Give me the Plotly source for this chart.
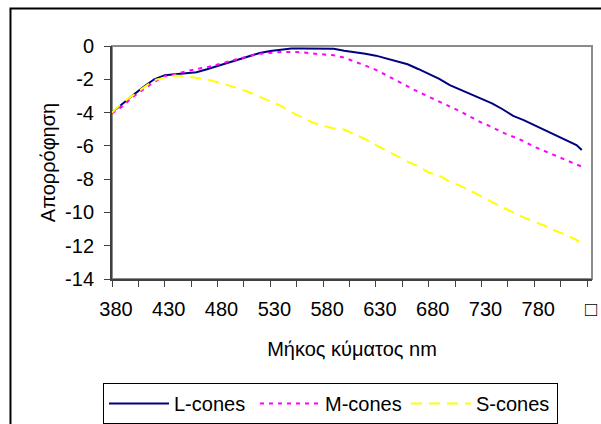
import plotly.graph_objects as go

# Wavelength samples (nm)
wavelength = [380, 390, 400, 410, 420, 430, 440, 450, 460, 470, 480, 490, 500, 510, 520,
              530, 540, 550, 560, 570, 580, 590, 600, 610, 620, 630, 640, 650, 660, 670,
              680, 690, 700, 710, 720, 730, 740, 750, 760, 770, 780, 790, 800, 810, 820, 825]

# Log absorbance of the three cone types
l_cones = [-4.0, -3.45, -2.95, -2.45, -2.0, -1.75, -1.68, -1.65, -1.58, -1.4, -1.2, -1.0, -0.82,
           -0.62, -0.42, -0.3, -0.22, -0.15, -0.15, -0.15, -0.15, -0.17, -0.28, -0.36, -0.46,
           -0.58, -0.74, -0.9, -1.1, -1.38, -1.68, -1.98, -2.35, -2.62, -2.9, -3.15, -3.45,
           -3.8, -4.2, -4.45, -4.75, -5.05, -5.37, -5.65, -5.95, -6.25]
m_cones = [-4.05, -3.62, -3.05, -2.6, -2.15, -1.82, -1.66, -1.52, -1.38, -1.28, -1.1, -0.95,
           -0.78, -0.6, -0.46, -0.4, -0.36, -0.36, -0.38, -0.45, -0.5, -0.56, -0.7, -0.92,
           -1.18, -1.43, -1.75, -2.05, -2.42, -2.75, -3.05, -3.32, -3.62, -3.93, -4.27, -4.6,
           -4.87, -5.2, -5.45, -5.72, -6.05, -6.32, -6.58, -6.82, -7.1, -7.25]
s_cones = [-4.0, -3.4, -2.95, -2.5, -2.05, -1.9, -1.78, -1.82, -1.92, -2.0, -2.18, -2.35, -2.55,
           -2.78, -3.05, -3.35, -3.6, -3.98, -4.3, -4.6, -4.8, -4.95, -5.02, -5.3, -5.6, -5.95,
           -6.3, -6.65, -6.95, -7.22, -7.6, -7.8, -8.15, -8.4, -8.7, -9.05, -9.4, -9.7, -10.0,
           -10.3, -10.55, -10.8, -11.1, -11.35, -11.65, -11.88]

# Axis ticks and labels
x_tickvals = [380, 405, 430, 455, 480, 505, 530, 555, 580, 605, 630, 655, 680, 705, 730, 755,
              780, 805, 830]
x_ticktext = ["380", "", "430", "", "480", "", "530", "", "580", "", "630", "", "680", "",
              "730", "", "780", "", "\u25a1"]
y_tickvals = [0, -2, -4, -6, -8, -10, -12, -14]
y_ticktext = ["0", "-2", "-4", "-6", "-8", "-10", "-12", "-14"]

FONT = "Liberation Sans, Arial, sans-serif"

fig = go.Figure()
fig.add_trace(go.Scatter(x=wavelength, y=l_cones, mode="lines", name="L-cones",
                         line=dict(color="#000080", width=2)))
fig.add_trace(go.Scatter(x=wavelength, y=m_cones, mode="lines", name="M-cones",
                         line=dict(color="#FF00FF", width=2, dash="4px,5px")))
fig.add_trace(go.Scatter(x=wavelength, y=s_cones, mode="lines", name="S-cones",
                         line=dict(color="#FFFF00", width=2, dash="11px,7px")))

# plot-area frame (grey) and outer chart frame (black)
fig.add_shape(type="rect", xref="paper", yref="paper", x0=0, x1=1, y0=0, y1=1,
              line=dict(color="#8c8c8c", width=2), layer="below")
fig.add_shape(type="rect", xref="paper", yref="paper", x0=-0.2115, x1=1.1, y0=-0.8, y1=1.161,
              line=dict(color="#000000", width=2))

fig.update_layout(
    width=601, height=424,
    margin=dict(l=112, r=9, t=46, b=145, autoexpand=False),
    paper_bgcolor="white", plot_bgcolor="white",
    font=dict(family=FONT, size=19, color="black"),
    xaxis=dict(
        range=[380, 834.7], tickmode="array", tickvals=x_tickvals, ticktext=x_ticktext,
        ticks="outside", ticklen=6, tickwidth=1, tickcolor="#404040",
        showline=True, linecolor="#404040", linewidth=2, showgrid=False, zeroline=False,
        ticklabelstandoff=5, ticklabelshift=4, automargin=False,
        tickfont=dict(size=20),
        title=dict(text="Μήκος κύματος nm", font=dict(size=20), standoff=23),
    ),
    yaxis=dict(
        range=[-14, 0], tickmode="array", tickvals=y_tickvals, ticktext=y_ticktext,
        ticks="outside", ticklen=6, tickwidth=1, tickcolor="#404040",
        showline=True, linecolor="#404040", linewidth=2, showgrid=False, zeroline=False,
        ticklabelstandoff=6, automargin=False,
        tickfont=dict(size=20),
        title=dict(text="Απορρόφηση", font=dict(size=20), standoff=4),
    ),
    legend=dict(
        orientation="h", xref="container", yref="container",
        x=103 / 601, y=1 - 383 / 424, xanchor="left", yanchor="top",
        bordercolor="black", borderwidth=1, font=dict(size=20),
        itemwidth=60, entrywidth=76, tracegroupgap=0,
    ),
)

fig.write_html("out.html")
